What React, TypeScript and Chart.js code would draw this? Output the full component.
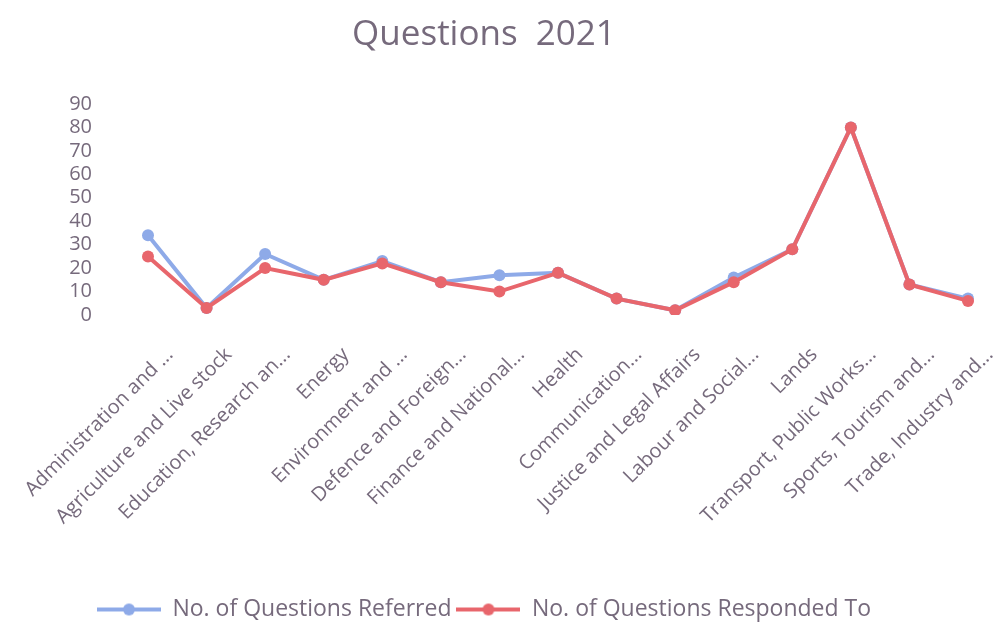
import React, { useEffect, useRef } from 'react';
import { Chart, registerables } from 'chart.js';

Chart.register(...registerables);

const categories = [
  'Administration and ...',
  'Agriculture and Live stock',
  'Education, Research an...',
  'Energy',
  'Environment and ...',
  'Defence and Foreign...',
  'Finance and National...',
  'Health',
  'Communication...',
  'Justice and Legal Affairs',
  'Labour and Social...',
  'Lands',
  'Transport, Public Works...',
  'Sports, Tourism and...',
  'Trade, Industry and...',
];

const referred = [34, 3, 26, 15, 23, 14, 17, 18, 7, 2, 16, 28, 80, 13, 7];
const responded = [25, 3, 20, 15, 22, 14, 10, 18, 7, 2, 14, 28, 80, 13, 6];

const seriesNames = ['No. of Questions Referred', 'No. of Questions Responded To'];
const yMin = 0;
const yMax = 90;
const yStep = 10;

const BLUE = '#8eaae8';
const RED = '#e8666c';
const TEXT = '#766a7c';
const FONT = "'Open Sans', 'DejaVu Sans', sans-serif";

function makeMarker(color: string): HTMLCanvasElement {
  const c = document.createElement('canvas');
  c.width = 64;
  c.height = 14;
  const ctx = c.getContext('2d')!;
  ctx.strokeStyle = color;
  ctx.lineWidth = 4;
  ctx.beginPath();
  ctx.moveTo(0, 7);
  ctx.lineTo(64, 7);
  ctx.stroke();
  ctx.fillStyle = color;
  ctx.beginPath();
  ctx.arc(32, 7, 6, 0, Math.PI * 2);
  ctx.fill();
  return c;
}

export default function App() {
  const ref = useRef<HTMLCanvasElement | null>(null);

  useEffect(() => {
    if (!ref.current) return;
    const markers = [makeMarker(BLUE), makeMarker(RED)];
    const chart = new Chart(ref.current, {
      type: 'line',
      data: {
        labels: categories,
        datasets: [
          {
            label: seriesNames[0],
            data: referred,
            borderColor: BLUE,
            backgroundColor: BLUE,
            borderWidth: 4,
            pointRadius: 6,
            pointBorderWidth: 0,
            pointBackgroundColor: BLUE,
            tension: 0,
            order: 1,
          },
          {
            label: seriesNames[1],
            data: responded,
            borderColor: RED,
            backgroundColor: RED,
            borderWidth: 4,
            pointRadius: 6,
            pointBorderWidth: 0,
            pointBackgroundColor: RED,
            tension: 0,
            order: 0,
          },
        ],
      },
      options: {
        animation: false,
        responsive: true,
        maintainAspectRatio: false,
        layout: { padding: { left: 0, right: 36, top: 0, bottom: -8 } },
        plugins: {
          tooltip: { enabled: false },
          title: {
            display: true,
            text: 'Questions  2021',
            color: TEXT,
            font: { family: FONT, size: 35, weight: 'normal' },
            padding: { top: 14, bottom: 48 },
          },
          legend: {
            position: 'bottom',
            labels: {
              color: TEXT,
              font: { family: FONT, size: 23 },
              usePointStyle: true,
              pointStyleWidth: 64,
              boxHeight: 14,
              padding: 5,
              generateLabels: (ch: any) =>
                ch.data.datasets.map((ds: any, i: number) => ({
                  text: ds.label,
                  fillStyle: ds.borderColor,
                  strokeStyle: ds.borderColor,
                  fontColor: TEXT,
                  lineWidth: 0,
                  pointStyle: markers[i],
                  hidden: false,
                  datasetIndex: i,
                })),
            },
          },
        },
        scales: {
          x: {
            offset: false,
            grid: { display: false },
            border: { display: false },
            ticks: {
              color: TEXT,
              font: { family: FONT, size: 20 },
              minRotation: 45,
              maxRotation: 45,
              autoSkip: false,
              padding: 20,
              labelOffset: 22,
            },
            afterFit: (scale: any) => {
              scale.height = 278;
              scale.paddingLeft = 0;
              scale.paddingRight = 0;
            },
          },
          y: {
            min: yMin,
            max: yMax,
            grid: { display: false },
            border: { display: false },
            ticks: {
              stepSize: yStep,
              autoSkip: false,
              color: TEXT,
              font: { family: FONT, size: 20 },
              padding: 48,
            },
            afterFit: (scale: any) => {
              scale.width = 148;
              scale.paddingTop = 0;
              scale.paddingBottom = 0;
            },
          },
        },
      },
    });
    return () => chart.destroy();
  }, []);

  return (
    <div style={{ position: 'fixed', left: 0, top: 0, width: 1004, height: 623, background: '#fff' }}>
      <canvas ref={ref} />
    </div>
  );
}
